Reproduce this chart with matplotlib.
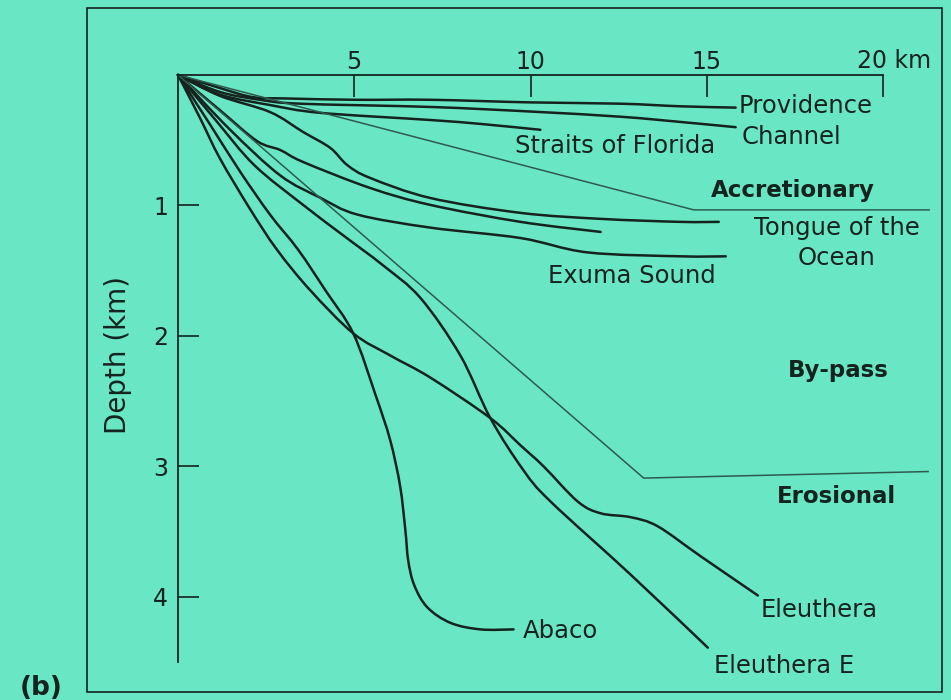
import numpy as np
import matplotlib.pyplot as plt
from matplotlib.patches import PathPatch, Rectangle
from matplotlib.path import Path

# distance offshore (km) and depth (km)
providence_x = [0, 1.19, 2.13, 3.10, 5.03, 7.16, 10.0, 12.56, 14.26, 15.82]
providence_d = [0, 0.10, 0.17, 0.18, 0.19, 0.19, 0.21, 0.22, 0.24, 0.25]

channel_x = [0, 1.19, 2.33, 3.47, 7.16, 10.0, 12.56, 14.26, 15.82]
channel_d = [0, 0.13, 0.19, 0.22, 0.245, 0.28, 0.32, 0.36, 0.40]

florida_x = [0, 1.19, 2.61, 4.03, 7.16, 8.58, 10.28]
florida_d = [0, 0.15, 0.23, 0.29, 0.345, 0.375, 0.42]

tongue_x = [0, 1.19, 2.61, 3.55, 4.32, 4.80, 5.45, 7.16, 9.72, 12.0, 14.26, 15.34]
tongue_d = [0, 0.16, 0.284, 0.437, 0.559, 0.690, 0.789, 0.943, 1.057, 1.103, 1.126, 1.126]

middle_x = [0, 1.19, 2.24, 2.90, 3.55, 5.45, 7.16, 9.72, 11.99]
middle_d = [0, 0.27, 0.506, 0.575, 0.667, 0.866, 0.996, 1.126, 1.203]

exuma_x = [0, 1.48, 2.90, 4.03, 5.09, 7.16, 9.72, 11.62, 14.26, 15.54]
exuma_d = [0, 0.42, 0.77, 0.94, 1.07, 1.17, 1.25, 1.36, 1.39, 1.39]

eleuthera_x = [0, 0.625, 1.19, 2.05, 2.81, 3.75, 4.97, 6.02, 7.16, 8.86, 9.72,
               10.37, 11.34, 11.99, 12.84, 13.61, 14.83, 16.45]
eleuthera_d = [0, 0.33, 0.64, 1.03, 1.34, 1.65, 1.98, 2.15, 2.32, 2.63, 2.84,
               3.00, 3.27, 3.36, 3.39, 3.46, 3.69, 3.99]

abaco_x = [0, 0.91, 1.76, 2.61, 3.41, 4.18, 4.97, 5.60, 6.02, 6.30, 6.45, 6.53,
           6.70, 7.07, 7.73, 8.58, 9.52]
abaco_d = [0, 0.38, 0.74, 1.07, 1.34, 1.65, 1.98, 2.45, 2.80, 3.15, 3.49, 3.72,
           3.91, 4.08, 4.20, 4.25, 4.25]

eleuthera_e_x = [0, 1.05, 2.16, 3.55, 4.69, 5.82, 6.88, 8.01, 8.86, 9.80, 10.57, 12.84, 15.03]
eleuthera_e_d = [0, 0.34, 0.69, 0.996, 1.23, 1.46, 1.71, 2.15, 2.63, 3.03, 3.27, 3.83, 4.39]

accretionary_x = [0, 14.63, 21.31]
accretionary_d = [0, 1.034, 1.034]
erosional_x = [0, 13.21, 21.28]
erosional_d = [0, 3.09, 3.04]

x_ticks = [5, 10, 15, 20]
x_labels = ["5", "10", "15", ""]
y_ticks = [1, 2, 3, 4]

bg = "#69e6c4"
ink = "#15231f"
grey = "#2e5a4e"


def smooth_path(xs, ds):
    # Catmull-Rom style Bezier through the read points
    pts = np.column_stack([xs, ds]).astype(float)
    n = len(pts)
    verts = [pts[0]]
    codes = [Path.MOVETO]
    for i in range(n - 1):
        p0 = pts[max(i - 1, 0)]
        p1, p2 = pts[i], pts[i + 1]
        p3 = pts[min(i + 2, n - 1)]
        verts += [p1 + (p2 - p0) / 6, p2 - (p3 - p1) / 6, p2]
        codes += [Path.CURVE4] * 3
    return Path(verts, codes)


fig = plt.figure(figsize=(9.51, 7.0), dpi=100, facecolor=bg)
ax = fig.add_axes([178 / 951, 1 - 662 / 700, 705 / 951, 587 / 700])
ax.set_facecolor("none")
ax.set_xlim(0, 20)
ax.set_ylim(4.5, 0)

for side in ["right", "bottom"]:
    ax.spines[side].set_visible(False)
for side in ["top", "left"]:
    ax.spines[side].set_color(ink)
    ax.spines[side].set_linewidth(1.3)

ax.xaxis.tick_top()
ax.set_xticks(x_ticks, x_labels)
ax.set_yticks(y_ticks, [str(t) for t in y_ticks])
ax.tick_params(axis="x", direction="in", length=16, width=1.2, pad=1,
               labelsize=17, colors=ink)
ax.tick_params(axis="y", direction="in", length=15, width=1.2, pad=7,
               labelsize=17, colors=ink)
# last scale label carries the unit
ax.text(19.26, -0.054, "20 km", fontsize=17, color=ink, va="baseline",
        clip_on=False)

profiles = [
    (providence_x, providence_d),
    (channel_x, channel_d),
    (florida_x, florida_d),
    (tongue_x, tongue_d),
    (middle_x, middle_d),
    (exuma_x, exuma_d),
    (eleuthera_x, eleuthera_d),
    (abaco_x, abaco_d),
    (eleuthera_e_x, eleuthera_e_d),
]
for xs, ds in profiles:
    ax.add_patch(PathPatch(smooth_path(xs, ds), fill=False, ec=ink, lw=1.8,
                           capstyle="round", joinstyle="round", clip_on=False))

for xs, ds in [(accretionary_x, accretionary_d), (erosional_x, erosional_d)]:
    ax.plot(xs, ds, color=grey, lw=1.1, clip_on=False)

label_kw = dict(fontsize=17.5, color=ink, va="baseline", clip_on=False)
ax.text(15.91, 0.291, "Providence", **label_kw)
ax.text(15.99, 0.529, "Channel", **label_kw)
ax.text(9.55, 0.598, "Straits of Florida", **label_kw)
ax.text(18.69, 1.226, "Tongue of the", ha="center", **label_kw)
ax.text(18.69, 1.456, "Ocean", ha="center", **label_kw)
ax.text(10.51, 1.594, "Exuma Sound", **label_kw)
ax.text(9.77, 4.314, "Abaco", **label_kw)
ax.text(16.53, 4.153, "Eleuthera", **label_kw)
ax.text(15.20, 4.582, "Eleuthera E", **label_kw)

bold_kw = dict(fontsize=16.5, fontweight="bold", color=ink, va="baseline",
               clip_on=False)
ax.text(15.11, 0.935, "Accretionary", **bold_kw)
ax.text(18.72, 2.314, "By-pass", ha="center", **bold_kw)
ax.text(18.69, 3.28, "Erosional", ha="center", **bold_kw)

fig.text(118 / 951, 1 - 355 / 700, "Depth (km)", rotation=90, ha="center",
         va="center", fontsize=20, color=ink)
fig.text(20 / 951, 1 - 695 / 700, "(b)", fontsize=19, fontweight="bold",
         color=ink, va="baseline")
fig.add_artist(Rectangle((87 / 951, 1 - 692 / 700), 855 / 951, 684 / 700,
                         transform=fig.transFigure, fill=False, lw=1.2,
                         ec=ink))

fig.savefig("out.png", dpi=100, facecolor=bg)
